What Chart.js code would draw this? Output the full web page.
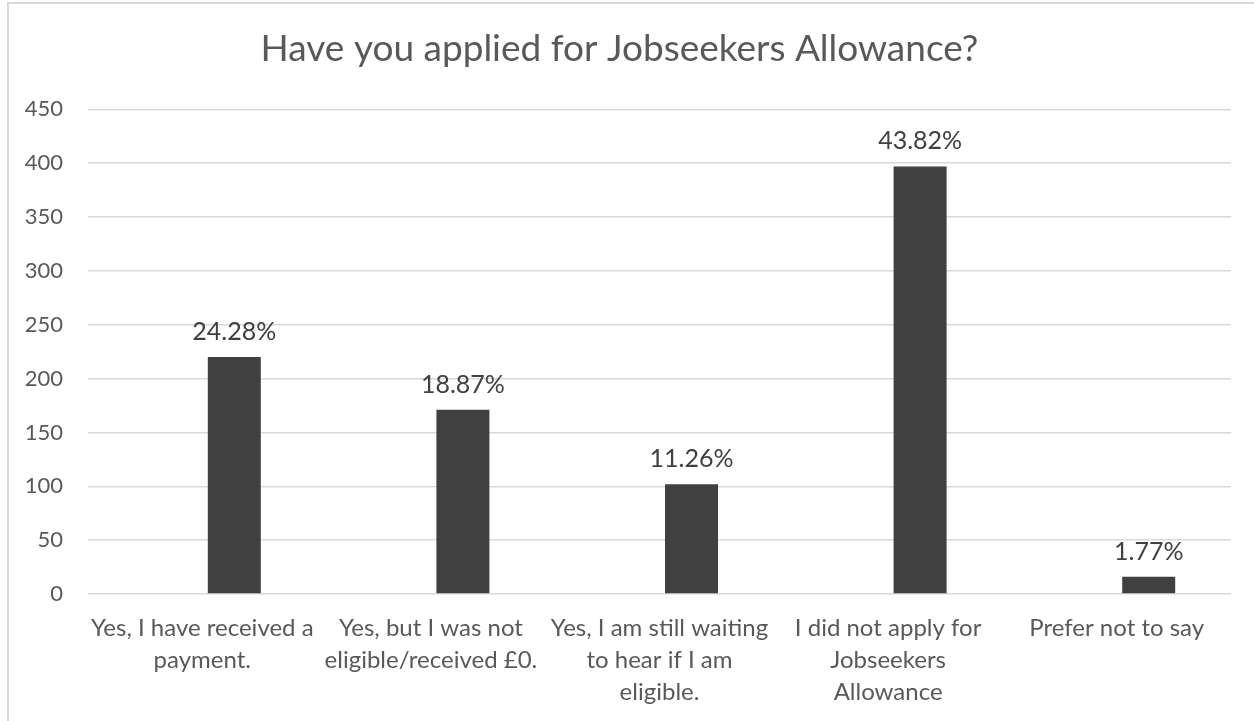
<!DOCTYPE html>
<html>
<head>
<meta charset="utf-8">
<title>Jobseekers Allowance</title>
<script src="https://cdn.jsdelivr.net/npm/chart.js@4.4.1/dist/chart.umd.min.js"></script>
<style>
    body { margin: 0; background: #fff; overflow: hidden; }
    #marco {
        position: absolute; left: 7px; top: 2px;
        width: 1270px; height: 740px;
        border: 2px solid #d9d9d9; box-sizing: border-box;
    }
    #grafico { position: absolute; left: 0; top: 0; }
</style>
</head>
<body>
<div id="marco"></div>
<canvas id="grafico" width="1254" height="721"></canvas>
<script>
// Respuestas (numero de personas por opcion)
const categorias = [
    ['Yes, I have received a', 'payment.'],
    ['Yes, but I was not', 'eligible/received £0.'],
    ['Yes, I am still waiting', 'to hear if I am', 'eligible.'],
    ['I did not apply for', 'Jobseekers', 'Allowance'],
    ['Prefer not to say']
];
const respuestas = [220, 171, 102, 397, 16];
const ticksY = [0, 50, 100, 150, 200, 250, 300, 350, 400, 450];

const total = respuestas.reduce((a, b) => a + b, 0);
const porcentajes = respuestas.map(v => (v / total * 100).toFixed(2) + '%');

const FUENTE = 'Lato, "Open Sans", sans-serif';
const GRIS_TEXTO = '#595959';

// etiquetas de porcentaje encima de cada barra
const etiquetasBarras = {
    id: 'etiquetasBarras',
    afterDatasetsDraw(chart) {
        const ctx = chart.ctx;
        const meta = chart.getDatasetMeta(1);
        ctx.save();
        ctx.font = '25px ' + FUENTE;
        ctx.fillStyle = '#404040';
        ctx.textAlign = 'center';
        ctx.textBaseline = 'alphabetic';
        meta.data.forEach((barra, i) => {
            ctx.fillText(porcentajes[i], barra.x, barra.y - 17);
        });
        ctx.restore();
    }
};

const ctx = document.getElementById('grafico').getContext('2d');
new Chart(ctx, {
    type: 'bar',
    data: {
        labels: categorias,
        datasets: [
            {
                // serie vacia, deja el hueco a la izquierda de cada barra
                label: '',
                data: respuestas.map(() => null),
                backgroundColor: '#404040'
            },
            {
                label: 'Respuestas',
                data: respuestas,
                backgroundColor: '#404040'
            }
        ]
    },
    options: {
        responsive: false,
        animation: false,
        devicePixelRatio: 1,
        categoryPercentage: 0.56,
        barPercentage: 0.828,
        layout: { padding: { left: 8, right: 23, top: 0, bottom: 0 } },
        plugins: {
            legend: { display: false },
            tooltip: { enabled: false },
            title: {
                display: true,
                text: 'Have you applied for Jobseekers Allowance?',
                color: GRIS_TEXTO,
                font: { family: FUENTE, size: 37, weight: 'normal', lineHeight: 1.2 },
                padding: { top: 27, bottom: 38 }
            }
        },
        scales: {
            x: {
                grid: { display: false, drawTicks: false },
                border: { display: false },
                ticks: {
                    color: GRIS_TEXTO,
                    font: { family: FUENTE, size: 24, lineHeight: '32px' },
                    padding: 18,
                    maxRotation: 0,
                    autoSkip: false
                },
                afterFit(scale) { scale.height = 127; }
            },
            y: {
                min: 0,
                max: 450,
                afterBuildTicks(scale) {
                    scale.ticks = ticksY.map(v => ({ value: v }));
                },
                grid: { color: '#d9d9d9', lineWidth: 1.5, drawTicks: false },
                border: { display: false },
                ticks: {
                    color: GRIS_TEXTO,
                    font: { family: FUENTE, size: 22 },
                    padding: 25
                },
                afterFit(scale) { scale.width = 80; }
            }
        }
    },
    plugins: [etiquetasBarras]
});
</script>
</body>
</html>
